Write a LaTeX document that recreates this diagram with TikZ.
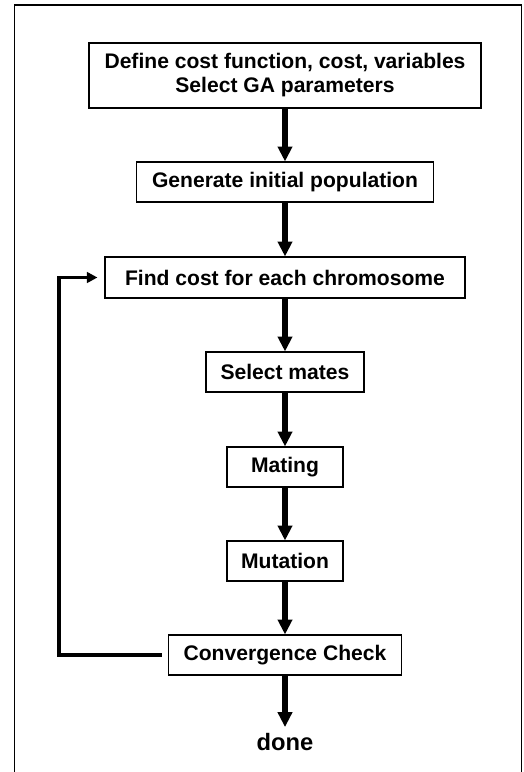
\documentclass[tikz,border=0pt]{standalone}
\usepackage{fontspec}
\setmainfont{Liberation Sans}
\usetikzlibrary{arrows.meta}
\usetikzlibrary{calc}

\begin{document}
\begin{tikzpicture}[
  font=\fontsize{12}{13.7}\selectfont\bfseries,
  stepbox/.style={draw, line width=0.6pt, align=center, minimum height=0.8cm, inner sep=0pt},
  arrow/.style={-{Triangle[length=8.5pt, width=8pt]}, line width=3pt},
  backarrow/.style={-{Triangle[length=6pt, width=6pt]}, line width=2.2pt}
]

% Page and outer frame (bottom edge runs off the page)
\useasboundingbox (0,0) rectangle (10.48,-15.44);
\draw[line width=1.1pt] (0.29,-15.44) -- (0.29,-0.10) -- (10.43,-0.10) -- (10.43,-15.44);

% Steps
\node[stepbox, minimum width=7.84cm, minimum height=1.3cm] (define) at (5.70,-1.51)
{Define cost function, cost, variables\\Select GA parameters};
\node[stepbox, minimum width=5.94cm] (generate) at (5.70,-3.64) {Generate initial population};
\node[stepbox, minimum width=7.20cm, minimum height=0.82cm] (findcost) at (5.70,-5.55) {Find cost for each chromosome};
\node[stepbox, minimum width=3.16cm] (select)   at (5.70,-7.44)  {Select mates};
\node[stepbox, minimum width=2.32cm] (mating)   at (5.70,-9.34)  {Mating};
\node[stepbox, minimum width=2.32cm] (mutation) at (5.70,-11.22) {Mutation};
\node[stepbox, minimum width=4.66cm] (converge) at (5.70,-13.10) {Convergence Check};
\node (done) at (5.70,-14.84) {\fontsize{13.5}{15}\selectfont done};

% Main flow
\draw[arrow] (define) -- (generate);
\draw[arrow] (generate) -- (findcost);
\draw[arrow] (findcost) -- (select);
\draw[arrow] (select) -- (mating);
\draw[arrow] (mating) -- (mutation);
\draw[arrow] (mutation) -- (converge);
\draw[arrow] (converge) -- (done);

% Loop back
\coordinate (loop) at (1.18,-13.12);
\draw[backarrow, shorten <=0.12cm, shorten >=0.14cm] (converge.west) -- (converge.west -| loop) |- (findcost.west);

\end{tikzpicture}
\end{document}
